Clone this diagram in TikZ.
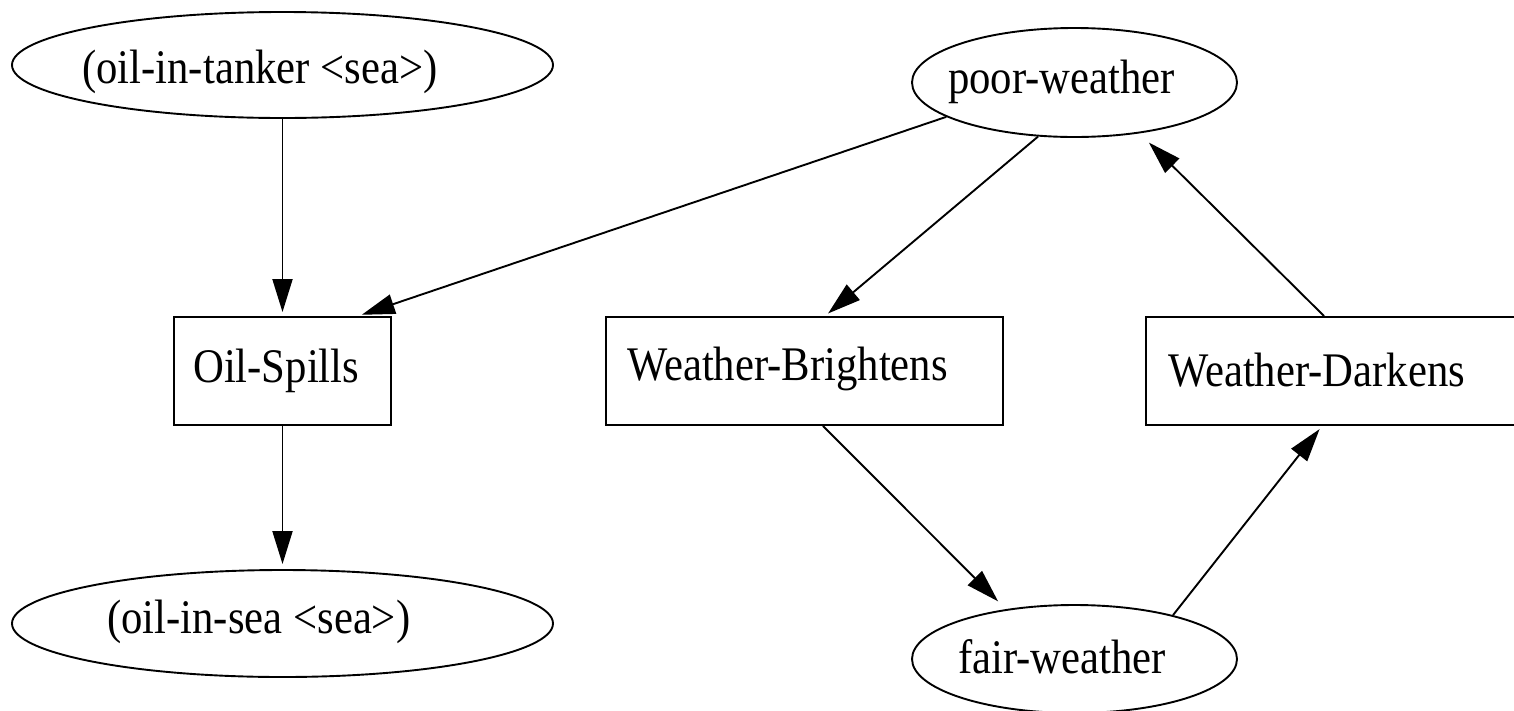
\documentclass[tikz,border=0pt]{standalone}
\usepackage{fontspec}
\setmainfont{Liberation Serif}
\usetikzlibrary{shapes.geometric,arrows.meta}
\newcommand{\tallt}[1]{\scalebox{1}[1.13]{#1}}
\begin{document}
\begin{tikzpicture}[x=1pt,y=-1pt,
  lw/.style={line width=1.9pt},
  oval/.style={draw,lw,ellipse,inner sep=0pt},
  box/.style={draw,lw,rectangle,inner sep=0pt},
  lbl/.style={anchor=base west,inner sep=0pt,font=\fontsize{42.7}{51}\selectfont},
  edge/.style={lw,-{Triangle[length=33pt,width=20pt]}}
]
\clip (0,0) rectangle (1514,710);
% shapes
\node[oval,minimum width=541pt,minimum height=106pt] (tanker) at (282.5,65) {};
\node[oval,minimum width=541pt,minimum height=107pt] (sea) at (282.5,623.5) {};
\node[box,minimum width=217pt,minimum height=108pt] (oil) at (282.5,371) {};
\node[box,minimum width=397pt,minimum height=108pt] (bright) at (804.5,371) {};
\node[box,minimum width=384pt,minimum height=108pt] (dark) at (1338,371) {};
\node[oval,minimum width=325pt,minimum height=109pt] (poor) at (1074.5,82.5) {};
\node[oval,minimum width=325pt,minimum height=108pt] (fair) at (1074.5,659) {};
% labels
\node[lbl] (tankerlbl) at (82,83) {\tallt{(oil-in-tanker <sea>)}};
\node[lbl] (sealbl) at (107,633) {\tallt{(oil-in-sea <sea>)}};
\node[lbl] (oillbl) at (193,382) {\tallt{Oil-Spills}};
\node[lbl] (brightlbl) at (627,380) {\tallt{Weather-Brightens}};
\node[lbl] (darklbl) at (1168,386) {\tallt{Weather-Darkens}};
\node[lbl] (poorlbl) at (948,93) {\tallt{poor-weather}};
\node[lbl] (fairlbl) at (958,673) {\tallt{fair-weather}};
% connectors
\draw[edge,shorten >=4pt] (tanker.south) -- (oil.north);
\draw[edge,shorten >=5pt] (oil.south) -- (sea.north);
\draw[edge,shorten >=4pt] (poor.195.7) -- ([xshift=75.5pt]oil.north);
\draw[edge,shorten >=4pt] (poor.236.2) -- ([xshift=20.5pt]bright.north);
\draw[edge,shorten >=11pt] ([xshift=18.5pt]bright.south) -- (fair.144.4);
\draw[edge,shorten >=4pt] (fair.24.7) -- ([xshift=177pt]dark.south west);
\draw[edge,shorten >=13pt] ([xshift=179pt]dark.north west) -- (poor.322.9);
\end{tikzpicture}
\end{document}
